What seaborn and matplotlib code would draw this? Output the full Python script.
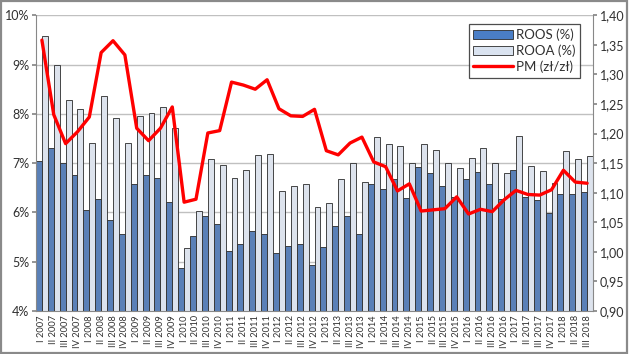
import matplotlib.pyplot as plt
import matplotlib.ticker as mticker
import numpy as np
import pandas as pd
import seaborn as sns
from matplotlib.lines import Line2D
from matplotlib.patches import Patch, Rectangle

# quarters I 2007 .. III 2018
years = list(range(2007, 2019))
romans = ["I", "II", "III", "IV"]
quarters = [f"{r} {y}" for y in years for r in romans][:47]

roos = [7.05, 7.30, 7.00, 6.76, 6.05, 6.27, 5.84, 5.56, 6.58, 6.76, 6.70, 6.21,
        4.87, 5.53, 5.92, 5.77, 5.22, 5.36, 5.63, 5.56, 5.18, 5.32, 5.36, 4.93,
        5.30, 5.72, 5.93, 5.56, 6.57, 6.47, 6.68, 6.29, 6.92, 6.80, 6.53, 6.32,
        6.68, 6.82, 6.57, 6.27, 6.86, 6.32, 6.25, 5.99, 6.37, 6.37, 6.41]
rooa = [9.57, 8.99, 8.28, 8.09, 7.40, 8.37, 7.91, 7.40, 7.95, 8.01, 8.13, 7.71,
        5.27, 6.02, 7.09, 6.96, 6.69, 6.86, 7.17, 7.18, 6.43, 6.53, 6.57, 6.11,
        6.19, 6.68, 7.00, 6.61, 7.54, 7.39, 7.34, 7.00, 7.39, 7.26, 7.00, 6.90,
        7.10, 7.30, 7.00, 6.81, 7.56, 6.94, 6.85, 6.59, 7.24, 7.09, 7.14]
pm = [1.358, 1.232, 1.183, 1.203, 1.228, 1.337, 1.357, 1.333, 1.209, 1.188, 1.209, 1.245,
      1.084, 1.089, 1.201, 1.205, 1.287, 1.282, 1.275, 1.291, 1.242, 1.230, 1.229, 1.241,
      1.171, 1.164, 1.184, 1.194, 1.152, 1.144, 1.103, 1.115, 1.069, 1.071, 1.073, 1.093,
      1.064, 1.072, 1.068, 1.088, 1.104, 1.097, 1.096, 1.105, 1.138, 1.118, 1.116]

DARK = "#4a7ec6"
LIGHT = "#dae3f0"
TXT = "#303030"

sns.set_theme(style="white")
plt.rcParams["font.family"] = ["Lato", "DejaVu Sans"]

df = pd.DataFrame({
    "kwartal": quarters * 2,
    "wartosc": roos + rooa,
    "seria": ["ROOS (%)"] * len(roos) + ["ROOA (%)"] * len(rooa),
})

fig = plt.figure(figsize=(6.29, 3.54), dpi=100)
ax = fig.add_axes([0.0572, 0.1215, 0.8856, 0.8353])

sns.barplot(data=df, x="kwartal", y="wartosc", hue="seria", order=quarters,
            hue_order=["ROOS (%)", "ROOA (%)"],
            palette={"ROOS (%)": DARK, "ROOA (%)": LIGHT},
            width=1.0, edgecolor="#2a2a2a", linewidth=0.6,
            errorbar=None, legend=False, ax=ax, zorder=2)

ax.set_ylim(4, 10)
ax.set_xlim(-0.5, len(quarters) - 0.5)
ax.set_yticks(np.arange(4, 10.01, 1))
ax.yaxis.set_major_formatter(mticker.FuncFormatter(lambda v, p: f"{v:.0f}%"))
ax.grid(axis="y", color="#c0c0c0", linewidth=1, zorder=0)
ax.set_axisbelow(True)
ax.set_xlabel("")
ax.set_ylabel("")
ax.set_xticks(np.arange(len(quarters)))
ax.set_xticklabels(quarters, rotation=90, fontsize=6.7, color=TXT)
ax.set_xticks(np.arange(-0.5, len(quarters)), minor=True)
ax.tick_params(axis="x", which="major", length=0, pad=3)
ax.tick_params(axis="x", which="minor", length=4, color="#888888", width=0.8)
ax.tick_params(axis="y", length=3, color="#888888", labelsize=9, labelcolor=TXT, pad=2, left=True)
for s in ["top", "right"]:
    ax.spines[s].set_visible(False)
for s in ["left", "bottom"]:
    ax.spines[s].set_color("#888888")
    ax.spines[s].set_linewidth(0.8)

ax2 = ax.twinx()
sns.lineplot(x=np.arange(len(pm)), y=pm, ax=ax2, color="#ff0000", linewidth=2.4)
ax2.set_ylim(0.90, 1.40)
ax2.set_yticks(np.arange(0.90, 1.401, 0.05))
ax2.yaxis.set_major_formatter(mticker.FuncFormatter(lambda v, p: f"{v:.2f}".replace(".", ",")))
ax2.tick_params(axis="y", length=3, color="#888888", labelsize=9, labelcolor=TXT, pad=2, right=True)
ax2.set_ylabel("")
for s in ["top", "left", "bottom"]:
    ax2.spines[s].set_visible(False)
ax2.spines["right"].set_color("#888888")
ax2.spines["right"].set_linewidth(0.8)

handles = [
    Patch(facecolor=DARK, edgecolor="#2a2a2a", linewidth=0.6, label="ROOS (%)"),
    Patch(facecolor=LIGHT, edgecolor="#2a2a2a", linewidth=0.6, label="ROOA (%)"),
    Line2D([], [], color="#ff0000", linewidth=2.4, label="PM (zł/zł)"),
]
leg = ax2.legend(handles=handles, loc="upper right", bbox_to_anchor=(0.977, 0.97),
                 fontsize=9.5, frameon=True, fancybox=False, borderpad=0.35,
                 labelspacing=0.25, handlelength=3.0, handletextpad=0.25, borderaxespad=0)
leg.get_frame().set_edgecolor("#202020")
leg.get_frame().set_linewidth(0.9)
for t in leg.get_texts():
    t.set_color(TXT)

fig.patches.append(Rectangle((0.002, 0.003), 0.995, 0.993, transform=fig.transFigure,
                             fill=False, edgecolor="#8a8a8a", linewidth=1.6))

fig.savefig("out.png", dpi=100)
